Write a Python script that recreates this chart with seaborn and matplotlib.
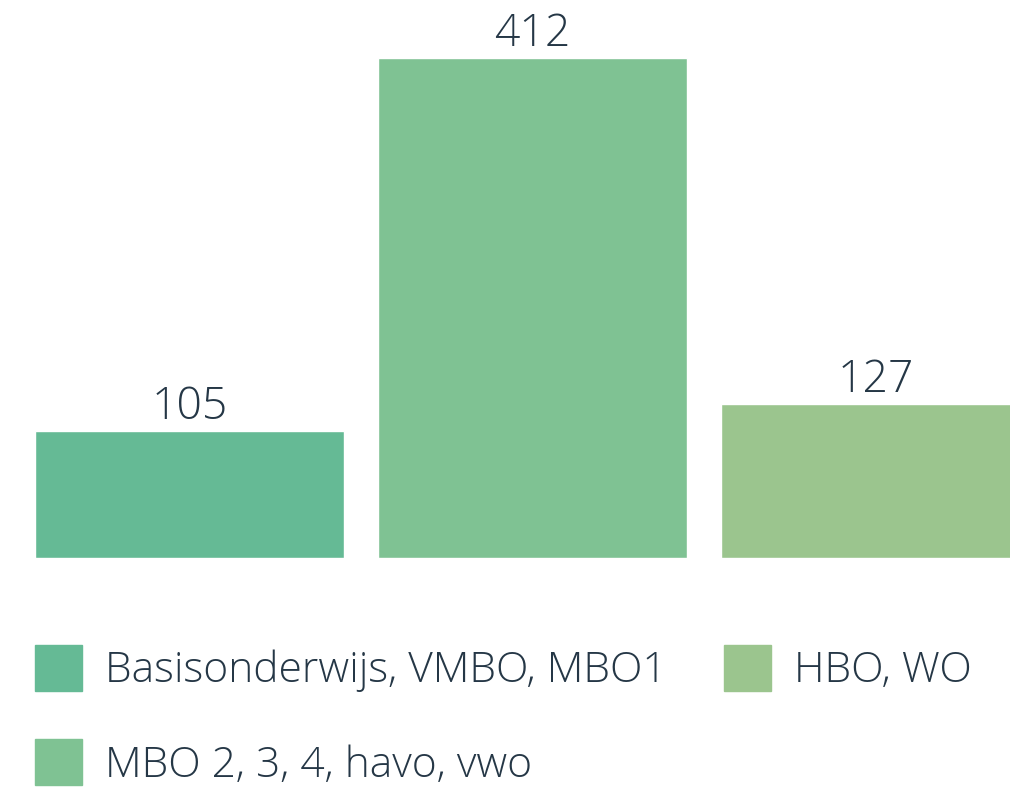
import matplotlib
matplotlib.use("Agg")
import matplotlib.pyplot as plt
import matplotlib.patches as mpatches
import seaborn as sns

# === Data ===
categories = ["Basisonderwijs, VMBO, MBO1", "MBO 2, 3, 4, havo, vwo", "HBO, WO"]
values = [105, 412, 127]
colors = ["#65BA95", "#7FC293", "#9BC58E"]
text_color = "#253746"

sns.set_style("white")
plt.rcParams["font.family"] = ["Open Sans", "DejaVu Sans"]
plt.rcParams["font.weight"] = "light"

fig = plt.figure(figsize=(10.1, 7.91), dpi=100)
ax = fig.add_axes([18 / 1010, 233 / 791, 1029 / 1010, 558 / 791])

sns.barplot(x=categories, y=values, hue=categories, palette=colors,
            width=0.9, dodge=False, legend=False, saturation=1, ax=ax)

ax.set_xlim(-0.5, 2.5)
ax.set_ylim(0, 459.8)
ax.axis("off")

# value labels above bars
for i, v in enumerate(values):
    ax.annotate(str(v), xy=(i, v), xytext=(0, 8.5), textcoords="offset points",
                ha="center", va="baseline", fontsize=32, color=text_color,
                fontweight="light")

# legend
handles = [mpatches.Patch(color=c, label=l) for c, l in zip(colors, categories)]
leg = fig.legend(handles=handles, loc="upper left", bbox_to_anchor=(35 / 1010, 1 - 645 / 791),
                 ncol=2, frameon=False, fontsize=30.6, handlelength=1.1, handleheight=1.3,
                 handletextpad=0.55, columnspacing=1.35, labelspacing=1.1, borderpad=0,
                 borderaxespad=0, labelcolor=text_color)
for t in leg.get_texts():
    t.set_fontweight("light")

fig.savefig("out.png", dpi=100)
plt.close(fig)
